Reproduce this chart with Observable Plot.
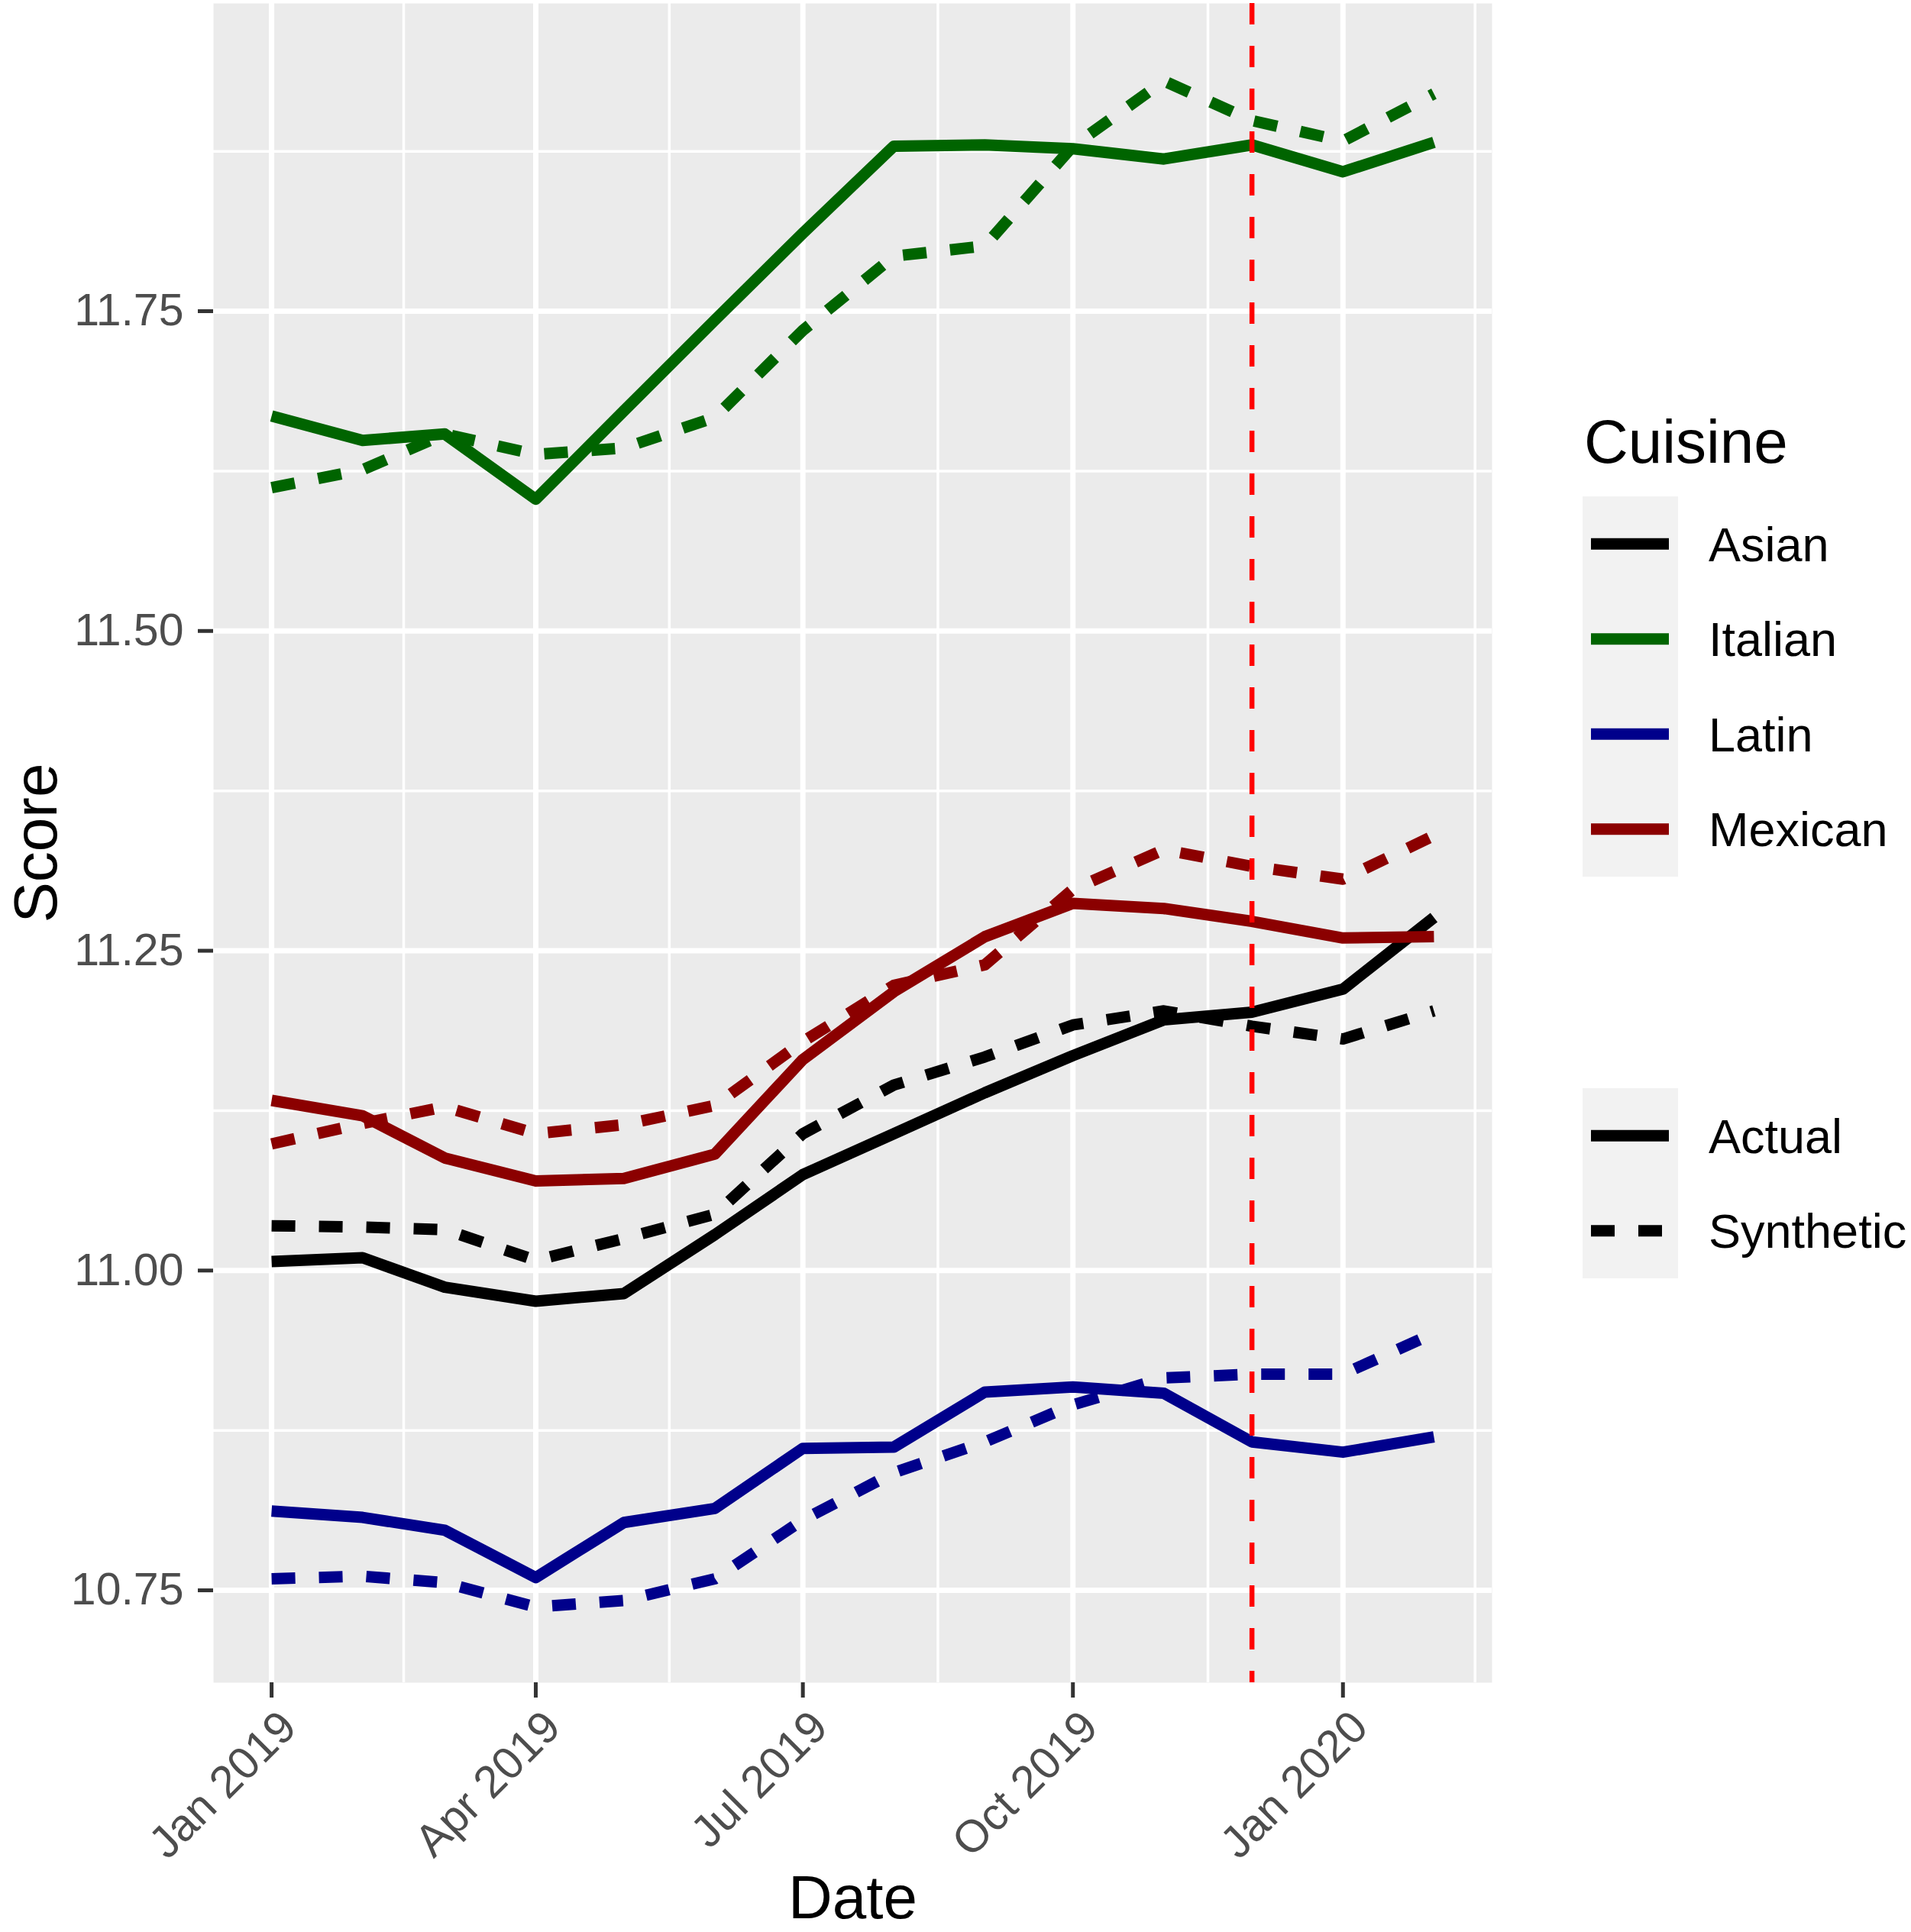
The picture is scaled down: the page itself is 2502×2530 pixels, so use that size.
<!DOCTYPE html>
<html><head><meta charset="utf-8">
<script src="https://cdn.jsdelivr.net/npm/d3@7"></script>
<script src="https://cdn.jsdelivr.net/npm/@observablehq/plot@0.6"></script>
<style>
html,body{margin:0;padding:0;background:#fff;}
#wrap{position:relative;width:2502px;height:2530px;font-family:"Liberation Sans",Arial,sans-serif;}
#wrap > svg{position:absolute;left:0;top:0;}
</style></head><body><div id="wrap"></div>
<script>
// ---- data ----
const months = ["2019-01-01","2019-02-01","2019-03-01","2019-04-01","2019-05-01","2019-06-01","2019-07-01",
                "2019-08-01","2019-09-01","2019-10-01","2019-11-01","2019-12-01","2020-01-01","2020-02-01"];
const cuisines = ["Asian","Italian","Latin","Mexican"];
const cuisineColors = ["#000000","#006400","#00008B","#8B0000"];
const types = ["Actual","Synthetic"];

const asianActual      = [11.007,11.010,10.987,10.976,10.982,11.028,11.075,11.107,11.139,11.168,11.196,11.202,11.220,11.276];
const asianSynthetic   = [11.035,11.034,11.032,11.008,11.025,11.044,11.107,11.145,11.167,11.192,11.203,11.191,11.181,11.203];
const italianActual    = [11.668,11.649,11.654,11.603,11.672,11.743,11.811,11.879,11.880,11.877,11.869,11.880,11.859,11.882];
const italianSynthetic = [11.612,11.626,11.654,11.638,11.643,11.667,11.735,11.793,11.801,11.879,11.930,11.899,11.883,11.920];
const latinActual      = [10.812,10.807,10.797,10.760,10.803,10.814,10.861,10.862,10.905,10.909,10.904,10.866,10.858,10.870];
const latinSynthetic   = [10.759,10.761,10.756,10.737,10.742,10.759,10.805,10.842,10.866,10.895,10.916,10.919,10.919,10.951];
const mexicanActual    = [11.133,11.121,11.088,11.070,11.072,11.091,11.165,11.218,11.261,11.287,11.283,11.273,11.260,11.261];
const mexicanSynthetic = [11.099,11.115,11.128,11.107,11.114,11.129,11.179,11.223,11.239,11.298,11.329,11.316,11.306,11.340];

const treatmentDate = "2019-12-01";
const xTickDates = ["2019-01-01","2019-04-01","2019-07-01","2019-10-01","2020-01-01"];
const yTicks = [10.75, 11.00, 11.25, 11.50, 11.75];
const yMinorTicks = [10.875, 11.125, 11.375, 11.625, 11.875];

// ---- build table ----
const seriesValues = {
  Asian: [asianActual, asianSynthetic],
  Italian: [italianActual, italianSynthetic],
  Latin: [latinActual, latinSynthetic],
  Mexican: [mexicanActual, mexicanSynthetic]
};
const parse = d3.utcParse("%Y-%m-%d");
const rows = [];
cuisines.forEach(c => types.forEach((t, ti) => {
  seriesValues[c][ti].forEach((v, i) => rows.push({date: parse(months[i]), value: v, cuisine: c, type: t}));
}));

const majorX = xTickDates.map(parse);
const minorX = majorX.map((d, i) => i === 0 ? new Date(+d - (majorX[1] - majorX[0]) / 2) : new Date((+d + +majorX[i-1]) / 2))
  .concat([new Date(+majorX[majorX.length-1] + (majorX[1]-majorX[0]) / 2)]);

const t0 = parse(months[0]), t1 = parse(months[months.length-1]);
const pad = (t1 - t0) * 0.05;

const W = 2502, H = 2530;
const FONT = '"Liberation Sans", Arial, sans-serif';

const lineMarks = [];
cuisines.forEach(c => {
  lineMarks.push(Plot.line(rows.filter(r => r.cuisine === c && r.type === "Actual"),
    {x: "date", y: "value", stroke: "cuisine", strokeWidth: 15, strokeLinejoin: "round", strokeLinecap: "butt"}));
  lineMarks.push(Plot.line(rows.filter(r => r.cuisine === c && r.type === "Synthetic"),
    {x: "date", y: "value", stroke: "cuisine", strokeWidth: 15, strokeLinejoin: "round", strokeLinecap: "butt", strokeDasharray: "31,31"}));
});

const chart = Plot.plot({
  width: W, height: H,
  marginLeft: 279, marginRight: W - 1953, marginTop: 4, marginBottom: H - 2203,
  style: {fontFamily: FONT, background: "transparent", overflow: "visible"},
  x: {type: "utc", domain: [new Date(+t0 - pad), new Date(+t1 + pad)]},
  y: {domain: [10.6778, 11.9906]},
  color: {domain: cuisines, range: cuisineColors},
  marks: [
    Plot.frame({fill: "#EBEBEB", stroke: "none"}),
    Plot.gridX({ticks: minorX, stroke: "#FFFFFF", strokeOpacity: 1, strokeWidth: 3.5}),
    Plot.gridY({ticks: yMinorTicks, stroke: "#FFFFFF", strokeOpacity: 1, strokeWidth: 3.5}),
    Plot.gridX({ticks: majorX, stroke: "#FFFFFF", strokeOpacity: 1, strokeWidth: 7}),
    Plot.gridY({ticks: yTicks, stroke: "#FFFFFF", strokeOpacity: 1, strokeWidth: 7}),
    ...lineMarks,
    Plot.ruleX([parse(treatmentDate)], {stroke: "#FF0000", strokeWidth: 6.5, strokeDasharray: "28,28"}),
    Plot.axisY({ticks: yTicks, tickFormat: d3.format(".2f"), tickSize: 20, tickPadding: 19, fontSize: 59,
      fill: "#4D4D4D", stroke: "#333333", strokeWidth: 5, label: null}),
    Plot.axisX({ticks: majorX, tickSize: 20, fill: "none", stroke: "#333333", strokeWidth: 5, label: null}),
    Plot.axisX({ticks: majorX, tickFormat: d3.utcFormat("%b %Y"), tickSize: 20, tickPadding: 12, tickRotate: -45,
      textAnchor: "end", lineAnchor: "top", dx: 6, fontSize: 59, fill: "#4D4D4D", stroke: "none", label: null}),
    Plot.text(["Score"], {text: d => d, frameAnchor: "left", dx: -206, rotate: -90, textAnchor: "middle",
      lineAnchor: "bottom", fontSize: 80, fill: "#000000"}),
    Plot.text(["Date"], {text: d => d, frameAnchor: "bottom", dy: 308, textAnchor: "middle",
      lineAnchor: "bottom", fontSize: 80, fill: "#000000"})
  ]
});
const wrap = document.getElementById("wrap");
wrap.appendChild(chart);

// ---- legend (drawn at right, like ggplot's guide) ----
const ns = "http://www.w3.org/2000/svg";
const leg = document.createElementNS(ns, "svg");
leg.setAttribute("width", W); leg.setAttribute("height", H);
leg.style.fontFamily = FONT;
function el(tag, attrs, text) {
  const e = document.createElementNS(ns, tag);
  for (const k in attrs) e.setAttribute(k, attrs[k]);
  if (text != null) e.textContent = text;
  leg.appendChild(e);
  return e;
}
const keyX = 2072, keyW = 125, keyH = 124.5, lineX1 = 2083, lineX2 = 2185, labelX = 2237;
el("text", {x: 2074, y: 606, "font-size": 80, fill: "#000"}, "Cuisine");
const cTop = 650;
el("rect", {x: keyX, y: cTop, width: keyW, height: keyH * cuisines.length, fill: "#F2F2F2"});
cuisines.forEach((c, i) => {
  const cy = cTop + keyH * (i + 0.5);
  el("line", {x1: lineX1, x2: lineX2, y1: cy, y2: cy, stroke: cuisineColors[i], "stroke-width": 15});
  el("text", {x: labelX, y: cy, dy: "0.36em", "font-size": 63, fill: "#000"}, c);
});
const tTop = 1425;
el("rect", {x: keyX, y: tTop, width: keyW, height: keyH * types.length, fill: "#F2F2F2"});
types.forEach((t, i) => {
  const cy = tTop + keyH * (i + 0.5);
  const attrs = {x1: lineX1, x2: lineX2, y1: cy, y2: cy, stroke: "#000", "stroke-width": 15};
  if (t === "Synthetic") attrs["stroke-dasharray"] = "31,31";
  el("line", attrs);
  el("text", {x: labelX, y: cy, dy: "0.36em", "font-size": 63, fill: "#000"}, t);
});
wrap.appendChild(leg);
</script>
</body></html>
